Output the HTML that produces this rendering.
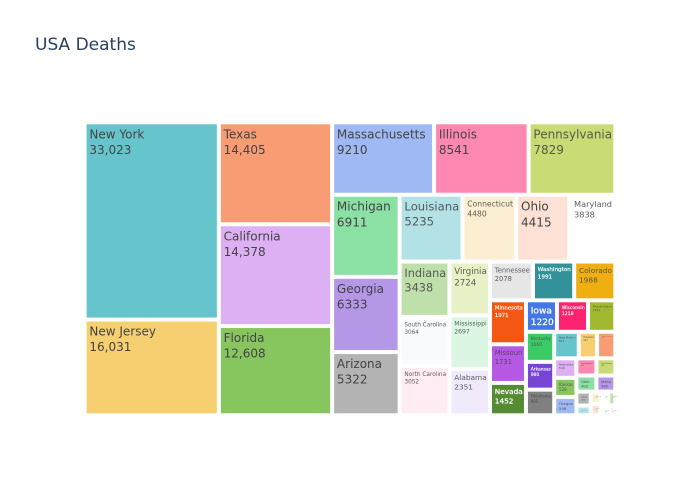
<!DOCTYPE html>
<html lang="en">
<head>
<meta charset="utf-8">
<title>USA Deaths</title>
<style>
  html, body { margin: 0; padding: 0; background: #fff; }
  #chart { display: block; width: 700px; height: 500px; font-family: "DejaVu Sans", "Liberation Sans", sans-serif; }
</style>
</head>
<body>
<svg id="chart" xmlns="http://www.w3.org/2000/svg" width="700" height="500" viewBox="0 0 700 500">
  <rect x="0" y="0" width="700" height="500" fill="#ffffff"></rect>
  <text x="35" y="50" font-size="17" fill="#2a3f5f">USA Deaths</text>
  <g id="tiles"></g>
</svg>
<script>
const states = [
  "New York", "New Jersey", "Texas", "California", "Florida", "Massachusetts", "Illinois", "Pennsylvania",
  "Michigan", "Georgia", "Arizona", "Louisiana", "Connecticut", "Ohio", "Maryland", "Indiana",
  "South Carolina", "North Carolina", "Virginia", "Mississippi", "Alabama", "Tennessee", "Washington", "Colorado",
  "Minnesota", "Missouri", "Nevada", "Iowa", "Wisconsin", "Rhode Island", "Kentucky", "Arkansas",
  "Oklahoma", "New Mexico", "Delaware", "District of Columbia", "Nebraska", "Kansas", "Oregon", "New Hampshire",
  "South Dakota", "Utah", "Idaho", "Maine", "West Virginia", "North Dakota", "Vermont", "Hawaii",
  "Montana", "Wyoming", "Alaska"
];
const deaths = [
  33023, 16031, 14405, 14378, 12608, 9210, 8541, 7829,
  6911, 6333, 5322, 5235, 4480, 4415, 3838, 3438,
  3064, 3052, 2724, 2697, 2351, 2078, 1991, 1988,
  1971, 1731, 1452, 1220, 1218, 1071, 1060, 980,
  905, 811, 607, 602, 540, 528, 508, 430,
  405, 400, 380, 250, 174, 150, 137, 135,
  120, 100, 84
];
const palette = ["#66c5cc", "#f6cf71", "#f89c74", "#dcb0f2", "#87c55f", "#9eb9f3", "#fe88b1", "#c9db74", "#8be0a4", "#b497e7", "#b3b3b3"];

const plotLeft = 84.6, plotTop = 122.3, plotRight = 615.3, plotBottom = 415.3;
const tileInset = 1.5, baseFont = 12, lineGap = 15.6, textPad = 3;
const svgNS = "http://www.w3.org/2000/svg";

function hexToHsl(hex) {
  const r = parseInt(hex.slice(1, 3), 16) / 255, g = parseInt(hex.slice(3, 5), 16) / 255, b = parseInt(hex.slice(5, 7), 16) / 255;
  const max = Math.max(r, g, b), min = Math.min(r, g, b), l = (max + min) / 2, d = max - min;
  let h = 0, s = 0;
  if (d > 0) {
    s = d / (1 - Math.abs(2 * l - 1));
    if (max === r) h = ((g - b) / d + 6) % 6;
    else if (max === g) h = (b - r) / d + 2;
    else h = (r - g) / d + 4;
  }
  return [h * 60, s, l];
}
function hslToRgb(h, s, l) {
  const c = (1 - Math.abs(2 * l - 1)) * s, x = c * (1 - Math.abs((h / 60) % 2 - 1)), m = l - c / 2;
  const seg = [[c, x, 0], [x, c, 0], [0, c, x], [0, x, c], [x, 0, c], [c, 0, x]][Math.floor(h / 60) % 6];
  return seg.map(v => Math.round((v + m) * 255));
}
/* Colorway extension: base palette, then each colour lightened, then darkened, repeating. */
function tileRgb(i) {
  const shade = [0, 0.2, -0.2][Math.floor(i / palette.length) % 3];
  const hsl = hexToHsl(palette[i % palette.length]);
  return hslToRgb(hsl[0], hsl[1], Math.min(1, Math.max(0, hsl[2] + shade)));
}
function formatValue(v) {
  return v >= 10000 ? String(v).replace(/\B(?=(\d{3})+$)/g, ",") : String(v);
}
/* Squarified layout over the sorted values. */
function squarify(values, x0, y0, x1, y1) {
  const rects = [];
  let value = values.reduce((a, b) => a + b, 0), i0 = 0, i1 = 0;
  const n = values.length;
  while (i0 < n) {
    const dx = x1 - x0, dy = y1 - y0;
    let sum = values[i1++], minV = sum, maxV = sum;
    const alpha = Math.max(dy / dx, dx / dy) / value;
    let beta = sum * sum * alpha;
    let minRatio = Math.max(maxV / beta, beta / minV);
    for (; i1 < n; ++i1) {
      const v = values[i1];
      sum += v;
      if (v < minV) minV = v;
      if (v > maxV) maxV = v;
      beta = sum * sum * alpha;
      const r = Math.max(maxV / beta, beta / minV);
      if (r > minRatio) { sum -= v; break; }
      minRatio = r;
    }
    if (dx < dy) {
      const yEnd = y0 + dy * sum / value;
      let x = x0;
      for (let k = i0; k < i1; k++) {
        const w = dx * values[k] / sum;
        rects[k] = { x0: x, y0: y0, x1: x + w, y1: yEnd };
        x += w;
      }
      y0 = yEnd;
    } else {
      const xEnd = x0 + dx * sum / value;
      let y = y0;
      for (let k = i0; k < i1; k++) {
        const h = dy * values[k] / sum;
        rects[k] = { x0: x0, y0: y, x1: xEnd, y1: y + h };
        y += h;
      }
      x0 = xEnd;
    }
    value -= sum;
    i0 = i1;
  }
  return rects;
}

const tilesLayer = document.getElementById("tiles");
const rects = squarify(deaths, plotLeft, plotTop, plotRight, plotBottom);

rects.forEach(function (r, i) {
  const rgb = tileRgb(i);
  const brightness = (rgb[0] * 299 + rgb[1] * 587 + rgb[2] * 114) / 1000;
  const isLightTile = brightness >= 128;
  const textColor = isLightTile ? "#444444" : "#ffffff";
  const x = r.x0 + tileInset, y = r.y0 + tileInset;
  const w = Math.max(0, r.x1 - r.x0 - 2 * tileInset), h = Math.max(0, r.y1 - r.y0 - 2 * tileInset);

  const g = document.createElementNS(svgNS, "g");
  
  

  const rect = document.createElementNS(svgNS, "rect");
  
  
  rect.setAttribute("x", x);
  rect.setAttribute("y", y);
  rect.setAttribute("width", w);
  rect.setAttribute("height", h);
  rect.setAttribute("fill", "rgb(" + rgb.join(",") + ")");
  rect.setAttribute("stroke", "#ffffff");
  rect.setAttribute("stroke-width", "1");
  g.appendChild(rect);

  const label = document.createElementNS(svgNS, "g");
  
  

  const nameText = document.createElementNS(svgNS, "text");
  
  
  nameText.setAttribute("font-size", baseFont);
  nameText.setAttribute("fill", textColor);
  nameText.textContent = states[i];
  label.appendChild(nameText);

  const valueText = document.createElementNS(svgNS, "text");
  
  
  valueText.setAttribute("font-size", baseFont);
  valueText.setAttribute("fill", textColor);
  valueText.setAttribute("y", lineGap);
  valueText.textContent = formatValue(deaths[i]);
  label.appendChild(valueText);

  g.appendChild(label);
  tilesLayer.appendChild(g);

  const textWidth = Math.max(nameText.getComputedTextLength(), valueText.getComputedTextLength());
  const scale = Math.max(0.08, Math.min(1, (w - 2 * textPad + 1) / textWidth, (h - 2 * textPad + 1) / (baseFont + lineGap)));
  if (!isLightTile) {
    label.setAttribute("stroke", "#ffffff");
    label.setAttribute("stroke-width", "0.35");
  } else if (scale < 1) {
    label.setAttribute("opacity", "0.85");
  }
  label.setAttribute("transform", "translate(" + (x + textPad + 0.3) + "," + (y - 0.5 + textPad + baseFont * scale) + ") scale(" + scale + ")");
});
</script>
</body>
</html>
